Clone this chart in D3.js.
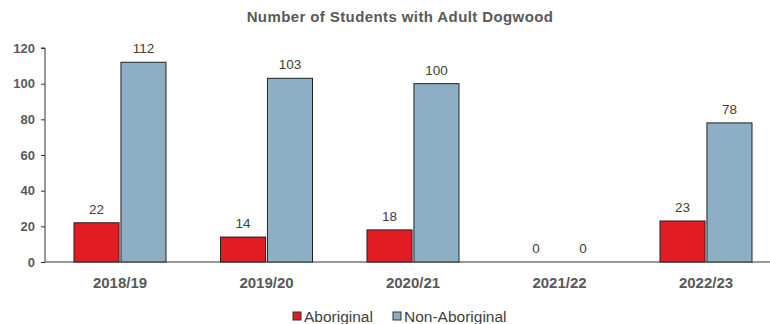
<!DOCTYPE html>
<html>
<head>
<meta charset="utf-8">
<script src="https://cdn.jsdelivr.net/npm/d3@7"></script>
<style>
  body { margin: 0; background: #fff; }
  text { font-family: "Liberation Sans", Arial, sans-serif; }
</style>
</head>
<body>
<svg id="chart" width="770" height="324"></svg>
<script>
// ----- DATA -----
var years = ["2018/19", "2019/20", "2020/21", "2021/22", "2022/23"];
var aboriginal = [22, 14, 18, 0, 23];
var nonAboriginal = [112, 103, 100, 0, 78];
var seriesNames = ["Aboriginal", "Non-Aboriginal"];
var yTicks = [0, 20, 40, 60, 80, 100, 120];

var colors = ["#e31b23", "#8eaec6"];

var svg = d3.select("#chart");
var plotLeft = 45, plotTop = 48, plotBottom = 262;

// category bands (first band starts a little right of the axis)
var x = d3.scaleBand().domain(years).range([46.75, 779.25]).paddingInner(0).paddingOuter(0);
var xs = d3.scaleBand().domain(seriesNames).range([0, 92]).paddingInner(0.04);
var y = d3.scaleLinear().domain([0, 120]).range([plotBottom, plotTop]);

// title
svg.append("text")
    .attr("x", 400).attr("y", 22)
    .attr("text-anchor", "middle")
    .style("font-size", "15px").style("font-weight", "bold")
    .style("letter-spacing", "0.4px")
    .style("fill", "#595959")
    .text("Number of Students with Adult Dogwood");

// y axis
var yAxis = svg.append("g")
    .attr("transform", "translate(" + plotLeft + ",0)")
    .call(d3.axisLeft(y).tickValues(yTicks).tickSize(4).tickPadding(6));
yAxis.select(".domain").attr("stroke", "#333").attr("d", "M-4," + plotTop + "H0V" + plotBottom);
yAxis.selectAll("line").attr("stroke", "#333");
yAxis.selectAll("text")
    .style("font-size", "13px").style("font-weight", "bold")
    .style("fill", "#595959");

// x axis baseline
svg.append("line")
    .attr("x1", plotLeft).attr("x2", 770)
    .attr("y1", plotBottom).attr("y2", plotBottom)
    .attr("stroke", "#333").attr("stroke-width", 1);

// category labels
svg.selectAll(".cat")
    .data(years)
    .enter().append("text")
    .attr("class", "cat")
    .attr("x", function(d) { return x(d) + x.bandwidth() / 2; })
    .attr("y", 288)
    .attr("text-anchor", "middle")
    .style("font-size", "15px").style("font-weight", "bold")
    .style("fill", "#595959")
    .text(function(d) { return d; });

// bars
var rows = years.map(function(d, i) {
    return { year: d, values: [aboriginal[i], nonAboriginal[i]] };
});

var groups = svg.selectAll(".grp")
    .data(rows)
    .enter().append("g")
    .attr("class", "grp")
    .attr("transform", function(d) { return "translate(" + (x(d.year) + x.bandwidth() / 2 - 46) + ",0)"; });

groups.selectAll("rect")
    .data(function(d) { return d.values.map(function(v, j) { return { s: seriesNames[j], v: v, j: j }; }); })
    .enter().append("rect")
    .filter(function(d) { return d.v > 0; })
    .attr("x", function(d) { return xs(d.s); })
    .attr("width", xs.bandwidth())
    .attr("y", function(d) { return y(d.v); })
    .attr("height", function(d) { return y(0) - y(d.v); })
    .attr("fill", function(d) { return colors[d.j]; })
    .attr("stroke", "#222").attr("stroke-width", 1);

groups.selectAll(".val")
    .data(function(d) { return d.values.map(function(v, j) { return { s: seriesNames[j], v: v }; }); })
    .enter().append("text")
    .attr("class", "val")
    .attr("x", function(d) { return xs(d.s) + xs.bandwidth() / 2; })
    .attr("y", function(d) { return y(d.v) - 9; })
    .attr("text-anchor", "middle")
    .style("font-size", "13.5px")
    .style("fill", "#404040")
    .text(function(d) { return d.v; });

// legend
var legendX = [293, 393];
var legend = svg.selectAll(".leg")
    .data(seriesNames)
    .enter().append("g")
    .attr("class", "leg")
    .attr("transform", function(d, i) { return "translate(" + legendX[i] + ",312)"; });
legend.append("rect")
    .attr("width", 8).attr("height", 8)
    .attr("fill", function(d, i) { return colors[i]; })
    .attr("stroke", "#333").attr("stroke-width", 1);
legend.append("text")
    .attr("x", 11).attr("y", 10)
    .style("font-size", "15.5px")
    .style("fill", "#404040")
    .text(function(d) { return d; });
</script>
</body>
</html>
